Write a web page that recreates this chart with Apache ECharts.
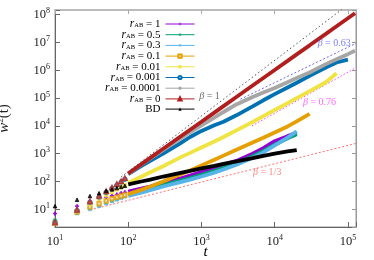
<!DOCTYPE html>
<html><head><meta charset="utf-8">
<script src="https://cdn.jsdelivr.net/npm/echarts@6/dist/echarts.min.js"></script>
<style>html,body{margin:0;padding:0;background:#fff}#c{width:374px;height:260px}</style>
</head><body><div id="c"></div>
<script>
// ---- data ----
const seriesNames = ['rAB = 1','rAB = 0.5','rAB = 0.3','rAB = 0.1','rAB = 0.01','rAB = 0.001','rAB = 0.0001','rAB = 0','BD'];
const tEarly = [10, 20, 30, 40, 50, 60, 70, 80, 90];
const tLate = [100, 150, 200, 300, 500, 700, 1000, 1500, 2000, 3000, 5000, 7000, 10000, 15000, 20000, 30000, 50000, 70000, 100000, 125000];

const earlyR1     = [7, 13, 18, 23, 27, 31, 34, 38, 41];
const earlyR05    = [4, 7.5, 11, 14, 17.5, 21, 24, 27, 30];
const earlyR03    = [3.6, 7, 10, 13, 16, 19, 22, 25, 28];
const earlyR01    = [3.2, 8, 12, 16, 20, 24, 27, 30, 33];
const earlyR001   = [3, 8.5, 16, 24, 32, 42, 52, 62, 74];
const earlyR0001  = [3.3, 9, 18, 28, 41, 56, 74, 95, 120];
const earlyR00001 = [3.2, 9, 18, 29, 42, 58, 76, 98, 125];
const earlyR0     = [3.3, 9.5, 19, 30, 44, 60, 80, 100, 130];
const earlyBD     = [13, 22, 30, 38, 46, 52, 58, 64, 70];

const lateR1     = [43, 55, 66, 89, 126, 162, 219, 309, 407, 550, 1000, 1580, 2820, 4270, 5620];
const lateR05    = [34, 45, 55, 74, 105, 132, 174, 240, 309, 457, 813, 1260, 2090, 3550, 5010];
const lateR03    = [30, 40, 49, 66, 93, 117, 151, 209, 269, 398, 708, 1120, 2000, 3800, 6310];
const lateR01    = [35, 50, 66, 100, 174, 251, 380, 603, 851, 1380, 2510, 3720, 5750, 9550, 14500, 26900];
const lateR001   = [89, 148, 214, 355, 708, 1070, 1660, 2750, 3980, 6920, 13800, 22400, 37200, 66100, 100000, 178000, 372000, 776000];
const lateR0001  = [186, 355, 550, 1000, 2240, 3980, 6600, 10500, 14100, 24000, 50100, 83200, 138000, 240000, 355000, 631000, 1260000, 1900000, 2400000];
const lateR00001 = [190, 400, 676, 1380, 3310, 5890, 10500, 20000, 31600, 58900, 110000, 158000, 229000, 372000, 525000, 832000, 1660000, 2510000, 3800000, 5000000];
const lateR0     = [195, 414, 708, 1500, 3890, 7280, 14100, 30000, 51300, 109000, 282000, 527000, 1020000, 2170000, 3720000, 7890000, 20400000, 38200000, 74100000, 112000000];
const lateBD     = [79, 100, 117, 151, 200, 240, 295, 363, 427, 525, 692, 832, 1000, 1200, 1350];

// guide lines (endpoints)
const guideBeta1T   = [80, 100000];
const guideBeta1V   = [146, 226000000];
const guideBeta063T = [3400, 129000];
const guideBeta063V = [91000, 9300000];
const guideBeta076T = [4900, 126000];
const guideBeta076V = [10000, 1200000];
const guideBeta13T  = [30, 129000];
const guideBeta13V  = [9.5, 2340];

// annotation labels
const annotText = ['1', '0.63', '0.76', '1/3'];
const annotT = [1290, 65000, 41000, 7900];
const annotV = [112000, 9100000, 71000, 209];

// ---- styling ----
const colors = ['#9400d3', '#009e73', '#56b4e9', '#e69f00', '#f0e442', '#0072b2', '#a6a6a6', '#b01e1e', '#000000'];
const annotColors = ['#444444', '#5a5aff', '#ff44ff', '#ff6a6a'];
const plusPath = 'path://M4,0h2v4h4v2h-4v4h-2v-4h-4v-2h4z';
const symbols = [plusPath, plusPath, plusPath, 'emptyRect', 'rect', 'emptyCircle', 'circle', 'emptyTriangle', 'triangle'];
const symRot = [0, 45, 45, 0, 0, 0, 0, 0, 0];
const earlyData = [earlyR1, earlyR05, earlyR03, earlyR01, earlyR001, earlyR0001, earlyR00001, earlyR0, earlyBD];
const lateData = [lateR1, lateR05, lateR03, lateR01, lateR001, lateR0001, lateR00001, lateR0, lateBD];
const FONT = 'Liberation Serif';

const series = [];
seriesNames.forEach((nm, k) => {
  series.push({
    name: nm, type: 'line', z: 2 + k,
    data: lateData[k].map((v, i) => [tLate[i], v]),
    showSymbol: false, symbol: symbols[k], symbolRotate: symRot[k], symbolSize: 4,
    lineStyle: { width: 3.8, color: colors[k] },
    itemStyle: { color: colors[k] },
    emphasis: { disabled: true }, animation: false
  });
});
seriesNames.forEach((nm, k) => {
  series.push({
    name: nm, type: 'scatter', z: 2 + k,
    data: earlyData[k].map((v, i) => [tEarly[i], v]),
    symbol: symbols[k], symbolRotate: symRot[k], symbolSize: 3.5,
    itemStyle: { color: colors[k], borderColor: colors[k], borderWidth: 1 },
    emphasis: { disabled: true }, animation: false
  });
});
const guides = [
  [guideBeta1T, guideBeta1V, '#555555', [1.5, 2.5]],
  [guideBeta063T, guideBeta063V, '#6a6aff', [2, 2]],
  [guideBeta076T, guideBeta076V, '#ff44ff', [1.5, 2]],
  [guideBeta13T, guideBeta13V, '#ff7070', [2, 2]]
];
guides.forEach((g, k) => {
  series.push({
    name: 'guide' + k, type: 'line', z: 1,
    data: g[0].map((t, i) => [t, g[1][i]]),
    showSymbol: false, symbol: 'none',
    lineStyle: { width: 1, color: g[2], type: g[3] },
    emphasis: { disabled: true }, animation: false
  });
});
series.push({
  name: 'annot', type: 'scatter', z: 20,
  symbolSize: 1, itemStyle: { color: 'rgba(0,0,0,0)' },
  labelLayout: { hideOverlap: false, moveOverlap: false },
  data: annotT.map((t, i) => ({
    value: [t, annotV[i]],
    label: { show: true, position: 'inside', color: annotColors[i], fontFamily: FONT, fontSize: 10,
      formatter: '{b|β} = ' + annotText[i],
      rich: { b: { fontStyle: 'italic', fontFamily: FONT, fontSize: 10, color: annotColors[i] } } }
  })),
  emphasis: { disabled: true }, animation: false
});

function powLabel(v) {
  const e = Math.log10(v);
  const r = Math.round(e);
  if (Math.abs(e - r) > 1e-6) return '';
  return '{b|10}{s|' + r + '}';
}
const tickRich = {
  b: { fontFamily: FONT, fontSize: 12.5, color: '#222' },
  s: { fontFamily: FONT, fontSize: 8, color: '#222', padding: [0, 0, 7, 0] }
};

const xCommon = { type: 'log', logBase: 10, min: 10, max: 129000, splitLine: { show: false } };
const yCommon = { type: 'log', logBase: 10, min: 2.31, max: 147000000, splitLine: { show: false } };

const option = {
  backgroundColor: '#fff',
  animation: false,
  grid: { left: 55, right: 18, top: 10, bottom: 33, show: true, borderColor: '#999', borderWidth: 1,
          containLabel: false, outerBoundsMode: 'none' },
  legend: {
    data: seriesNames, orient: 'vertical', align: 'right', right: 174, top: 13,
    itemWidth: 29, itemHeight: 4, itemGap: -1.3,
    lineStyle: { width: 1 },
    itemStyle: { borderWidth: 1 },
    textStyle: { fontFamily: FONT, fontSize: 11, color: '#000', lineHeight: 9,
      rich: {
        r: { fontFamily: FONT, fontSize: 11.5, fontStyle: 'italic', color: '#000', lineHeight: 9 },
        s: { fontFamily: FONT, fontSize: 6.5, color: '#000', padding: [3, 0, 0, 0], lineHeight: 9 },
        t: { fontFamily: FONT, fontSize: 11, color: '#000', lineHeight: 9 }
      } },
    formatter: function (name) {
      if (name === 'BD') return '{t|BD}';
      return '{r|r}{s|AB}{t| = ' + name.split('= ')[1] + '}';
    },
    selectedMode: false
  },
  xAxis: [
    Object.assign({}, xCommon, {
      position: 'bottom',
      name: 't', nameLocation: 'middle', nameGap: 18, nameMoveOverlap: false,
      nameTextStyle: { fontFamily: FONT, fontSize: 15, fontStyle: 'italic', color: '#000' },
      axisLine: { lineStyle: { color: '#666', width: 1 } },
      axisTick: { inside: true, length: 5, lineStyle: { color: '#666' } },
      axisLabel: { margin: 7, formatter: powLabel, rich: tickRich, showMinLabel: true, showMaxLabel: true }
    }),
    Object.assign({}, xCommon, {
      position: 'top',
      axisLine: { lineStyle: { color: '#bbb', width: 2 } },
      axisTick: { inside: true, length: 4, lineStyle: { color: '#aaa' } },
      axisLabel: { show: false }
    })
  ],
  yAxis: [
    Object.assign({}, yCommon, {
      position: 'left',
      name: '{i|w}{s|2}(t)', nameLocation: 'middle', nameGap: 42, nameRotate: 90, nameMoveOverlap: false,
      nameTextStyle: { fontFamily: FONT, fontSize: 15, color: '#222',
        rich: { i: { fontFamily: FONT, fontSize: 15, fontStyle: 'italic', color: '#222' },
                s: { fontFamily: FONT, fontSize: 9, color: '#222', padding: [0, 0, 8, 0] } } },
      axisLine: { lineStyle: { color: '#666', width: 1 } },
      axisTick: { inside: true, length: 5, lineStyle: { color: '#666' } },
      axisLabel: { margin: 5, formatter: powLabel, rich: tickRich }
    }),
    Object.assign({}, yCommon, {
      position: 'right',
      axisLine: { lineStyle: { color: '#999', width: 1 } },
      axisTick: { inside: true, length: 4, lineStyle: { color: '#999' } },
      axisLabel: { show: false }
    })
  ],
  series: series
};
const chart = echarts.init(document.getElementById('c'), null, { renderer: 'canvas' });
chart.setOption(option);
</script>
</body></html>
